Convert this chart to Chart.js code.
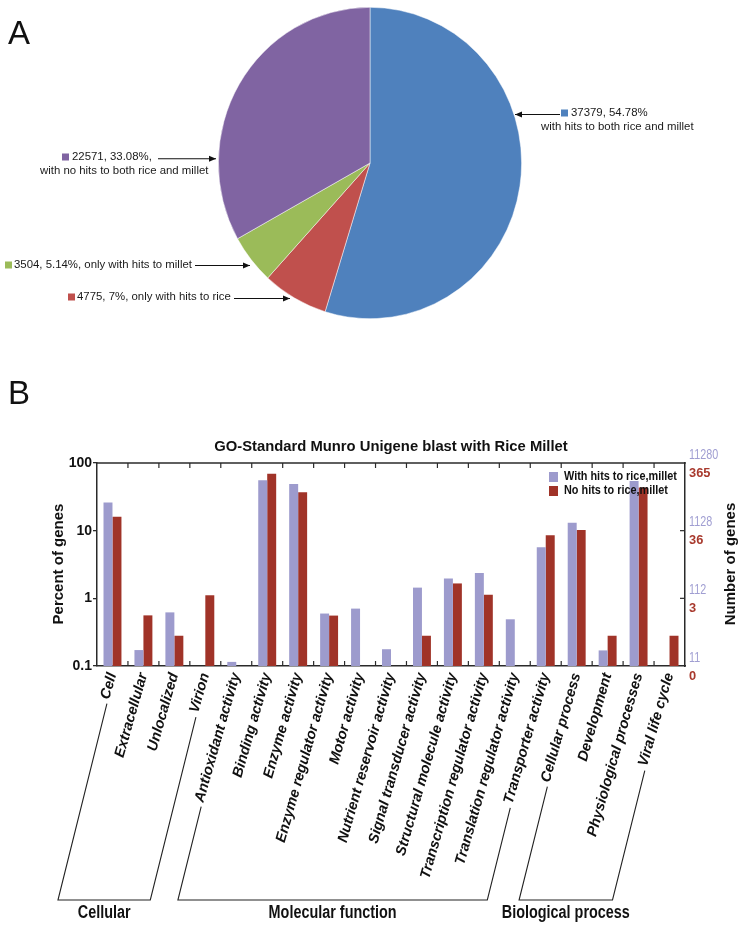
<!DOCTYPE html>
<html><head><meta charset="utf-8">
<script src="https://cdn.jsdelivr.net/npm/chart.js@4.4.1/dist/chart.umd.min.js"></script>
<style>
html,body{margin:0;padding:0;background:#fff;}
#wrap{position:relative;width:747px;height:933px;overflow:hidden;background:#fff;}
canvas{position:absolute;left:0;}
#pie{top:0}
#bar{top:380px}
.panel{position:absolute;font-family:'Liberation Sans',Arial,sans-serif;font-size:33px;color:#111;line-height:33px;}
</style></head><body>
<div id="wrap">
<canvas id="pie" width="747" height="380"></canvas>
<canvas id="bar" width="747" height="553"></canvas>
<div class="panel" style="left:8px;top:16px">A</div>
<div class="panel" style="left:8px;top:376px">B</div>
</div>
<script>
// ---------- DATA: panel A ----------
const pieDescriptions = ['with hits to both rice and millet','only with hits to rice','only with hits to millet','with no hits to both rice and millet'];
const pieCounts = [37379, 4775, 3504, 22571];
const piePercents = ['54.78%','7%','5.14%','33.08%'];

// ---------- DATA: panel B ----------
const categories = ['Cell','Extracellular','Unlocalized','Virion','Antioxidant activity','Binding activity','Enzyme activity','Enzyme regulator activity','Motor activity','Nutrient reservoir activity','Signal transducer activity','Structural molecule activity','Transcription regulator activity','Translation regulator activity','Transporter activity','Cellular process','Development','Physiological processes','Viral life cycle'];
const seriesNames = ['With hits to rice,millet','No hits to rice,millet'];
const withHits = [26.1, 0.172, 0.62, null, 0.115, 55.7, 49, 0.596, 0.705, 0.177, 1.44, 1.97, 2.36, 0.49, 5.69, 13.1, 0.17, 54.3, null];
const noHits   = [16.1, 0.56, 0.28, 1.11, null, 69.6, 37, 0.556, null, null, 0.28, 1.66, 1.13, null, 8.53, 10.2, 0.28, 43.4, 0.28];
const leftTickValues = [0.1, 1, 10, 100];
const leftTickLabels = ['0.1','1','10','100'];
const rightTickTop = ['11','112','1128','11280'];
const rightTickBottom = ['0','3','36','365'];
const chartTitle = 'GO-Standard Munro Unigene blast with Rice Millet';
const leftAxisTitle = 'Percent of genes';
const rightAxisTitle = 'Number of genes';
const groupNames = ['Cellular','Molecular function','Biological process'];
const groupFirst = [0, 4, 15];
const groupLast = [3, 14, 18];

// ---------- STYLE ----------
const FONT = "'Liberation Sans', Arial, Helvetica, sans-serif";
Chart.defaults.font.family = FONT;
const pieColors = ['#4F81BD','#C0504D','#9BBB59','#8064A2'];
const PURPLE = '#9D9BCD', RED = '#A03328';
const AXIS = '#2a2a2a';

function textAt(ctx, text, x, y, font, color, align, sx) {
  ctx.save();
  ctx.font = font; ctx.fillStyle = color; ctx.textBaseline = 'middle';
  ctx.textAlign = align || 'left';
  ctx.translate(x, y); ctx.scale(sx || 1, 1);
  ctx.fillText(text, 0, 0);
  ctx.restore();
}
function arrow(ctx, x1, y1, x2, y2) {
  ctx.beginPath(); ctx.moveTo(x1, y1); ctx.lineTo(x2, y2); ctx.stroke();
  const a = Math.atan2(y2 - y1, x2 - x1), L = 7, W = 3;
  ctx.beginPath(); ctx.moveTo(x2, y2);
  ctx.lineTo(x2 - L * Math.cos(a) + W * Math.sin(a), y2 - L * Math.sin(a) - W * Math.cos(a));
  ctx.lineTo(x2 - L * Math.cos(a) - W * Math.sin(a), y2 - L * Math.sin(a) + W * Math.cos(a));
  ctx.closePath(); ctx.fill();
}

// ---------- PANEL A ----------
const PIE_STRETCH = 1.027;
const pieLabelPos = [
  {sq:[561,113], l1:[571,113], l2:[541,126.5], ar:[560,114.5,515,114.5]},
  {sq:[68,297], l1:[77,297], ar:[234,298.5,290,298.5]},
  {sq:[5,265], l1:[14,265], ar:[195,265.5,250,265.5]},
  {sq:[62,157], l1:[72,157], l2:[40,170.5], ar:[158,158.7,216,158.7]}
];
const pieAnnot = {
  id: 'pieAnnot',
  beforeDatasetsDraw(chart) {
    const ctx = chart.ctx, cy = (chart.chartArea.top + chart.chartArea.bottom) / 2;
    ctx.save(); ctx.translate(0, cy); ctx.scale(1, PIE_STRETCH); ctx.translate(0, -cy);
  },
  afterDatasetsDraw(chart) { chart.ctx.restore(); },
  afterDraw(chart) {
    const ctx = chart.ctx;
    const f = '11.4px ' + FONT;
    ctx.save();
    ctx.strokeStyle = '#111'; ctx.fillStyle = '#111'; ctx.lineWidth = 1.1;
    pieCounts.forEach((c, i) => {
      const p = pieLabelPos[i];
      ctx.fillStyle = pieColors[i];
      ctx.fillRect(p.sq[0], p.sq[1] - 3.5, 7, 7);
      if (p.l2) {
        textAt(ctx, c + ', ' + piePercents[i] + (i === 3 ? ',' : ''), p.l1[0], p.l1[1], f, '#1a1a1a');
        textAt(ctx, pieDescriptions[i], p.l2[0], p.l2[1], f, '#1a1a1a');
      } else {
        textAt(ctx, c + ', ' + piePercents[i] + ', ' + pieDescriptions[i], p.l1[0], p.l1[1], f, '#1a1a1a');
      }
      ctx.fillStyle = '#111';
      arrow(ctx, p.ar[0], p.ar[1], p.ar[2], p.ar[3]);
    });
    ctx.restore();
  }
};
new Chart(document.getElementById('pie'), {
  type: 'pie',
  data: { labels: pieDescriptions, datasets: [{ data: pieCounts, backgroundColor: pieColors, borderColor: 'rgba(255,255,255,0.6)', borderWidth: 0.8 }] },
  options: {
    responsive: false, animation: false, devicePixelRatio: 1,
    layout: { padding: { left: 218, right: 225, top: 11, bottom: 65 } },
    plugins: { legend: { display: false }, tooltip: { enabled: false } }
  },
  plugins: [pieAnnot]
});

// ---------- PANEL B ----------
const ROT = 74, XFS = 14.5, XPAD = 5, BR_ROT = 76;
const BRACKET_Y = 520, GROUP_Y = 533, GAP = 4;
const decor = {
  id: 'decor',
  afterDraw(chart) {
    const { ctx, chartArea: ca, scales } = chart;
    const xs = scales.x, ys = scales.y;
    const line = (a, b, c, d) => { ctx.beginPath(); ctx.moveTo(a, b); ctx.lineTo(c, d); ctx.stroke(); };
    ctx.save();
    ctx.strokeStyle = AXIS; ctx.lineWidth = 1.5;
    line(ca.left - 0.75, ca.top, ca.right + 0.75, ca.top);
    ctx.lineWidth = 1.2;
    for (let i = 1; i < categories.length; i++) {
      const px = (xs.getPixelForTick(i - 1) + xs.getPixelForTick(i)) / 2;
      line(px, ca.top, px, ca.top + 5);
      line(px, ca.bottom, px, ca.bottom - 5);
    }
    leftTickValues.forEach((v, i) => {
      const py = ys.getPixelForValue(v);
      if (i > 0 && i < leftTickValues.length - 1) line(ca.right, py, ca.right - 5, py);
      textAt(ctx, rightTickTop[i], ca.right + 4, py - 8.5, '15px ' + FONT, '#A09ED2', 'left', 0.72);
      textAt(ctx, rightTickBottom[i], ca.right + 4, py + 10, 'bold 13.5px ' + FONT, '#A8392D', 'left', 0.95);
    });
    // title
    textAt(ctx, chartTitle, (ca.left + ca.right) / 2, 67, 'bold 14.8px ' + FONT, '#111', 'center');
    // axis titles
    [[59, leftAxisTitle], [731, rightAxisTitle]].forEach(([x, t]) => {
      ctx.save(); ctx.translate(x, 184); ctx.rotate(-Math.PI / 2);
      textAt(ctx, t, 0, 0, 'bold 15px ' + FONT, '#111', 'center');
      ctx.restore();
    });
    // legend
    [[PURPLE, seriesNames[0], 97], [RED, seriesNames[1], 111]].forEach(([col, t, y]) => {
      ctx.fillStyle = col; ctx.fillRect(549, y - 5, 9, 10);
      textAt(ctx, t, 564, y, 'bold 12.5px ' + FONT, '#111', 'left', 0.87);
    });
    // group brackets
    const th = ROT * Math.PI / 180, c = Math.cos(th), s = Math.sin(th), lh = XFS * 1.2;
    const bth = BR_ROT * Math.PI / 180, bc = Math.cos(bth), bs = Math.sin(bth);
    ctx.font = 'italic bold ' + XFS + 'px ' + FONT;
    const foot = i => {
      const ex = xs.getPixelForTick(i), ey = xs.top + XPAD + (lh / 2) * c;
      const w = ctx.measureText(categories[i]).width;
      const gx = ex - (w + GAP) * c + 3 * s, gy = ey + (w + GAP) * s + 3 * c;
      const t = (BRACKET_Y - gy) / bs;
      return [gx, gy, gx - t * bc, BRACKET_Y];
    };
    ctx.strokeStyle = '#222'; ctx.lineWidth = 1.1;
    groupNames.forEach((g, k) => {
      const a = foot(groupFirst[k]), b = foot(groupLast[k]);
      ctx.beginPath(); ctx.moveTo(a[0], a[1]); ctx.lineTo(a[2], a[3]); ctx.lineTo(b[2], b[3]); ctx.lineTo(b[0], b[1]); ctx.stroke();
      textAt(ctx, g, (a[2] + b[2]) / 2, GROUP_Y, 'bold 18px ' + FONT, '#111', 'center', 0.8);
    });
    ctx.restore();
  }
};
const fixTicks = s => { s.ticks = leftTickValues.map(v => ({ value: v })); };
new Chart(document.getElementById('bar'), {
  type: 'bar',
  data: {
    labels: categories,
    datasets: [
      { label: seriesNames[0], data: withHits, backgroundColor: PURPLE, yAxisID: 'y' },
      { label: seriesNames[1], data: noHits, backgroundColor: RED, yAxisID: 'y' }
    ]
  },
  options: {
    responsive: false, animation: false, devicePixelRatio: 1,
    layout: { padding: { top: 83, left: 0, right: 0, bottom: 0 } },
    datasets: { bar: { categoryPercentage: 0.58, barPercentage: 1.0 } },
    plugins: { legend: { display: false }, tooltip: { enabled: false }, title: { display: false } },
    scales: {
      x: {
        type: 'category', offset: true,
        grid: { display: false, drawTicks: false },
        border: { display: true, color: AXIS, width: 1.5 },
        ticks: { autoSkip: false, minRotation: ROT, maxRotation: ROT, padding: XPAD, color: '#111',
                 font: { size: XFS, weight: 'bold', style: 'italic' } },
        afterFit(s) { s.height = 267; }
      },
      y: {
        type: 'logarithmic', position: 'left', min: 0.1, max: 100,
        afterBuildTicks: fixTicks,
        ticks: { padding: 1, color: '#111', font: { size: 14, weight: 'bold' },
                 callback: v => { const i = leftTickValues.indexOf(v); return i >= 0 ? leftTickLabels[i] : ''; } },
        grid: { drawOnChartArea: false, drawTicks: true, tickLength: 4, color: AXIS, lineWidth: 1.3 },
        border: { display: true, color: AXIS, width: 1.5 },
        afterFit(s) { s.width = 97; }
      },
      y1: {
        type: 'logarithmic', position: 'right', min: 0.1, max: 100,
        afterBuildTicks: fixTicks,
        ticks: { display: false },
        grid: { display: false, drawOnChartArea: false, drawTicks: false },
        border: { display: true, color: AXIS, width: 1.5 },
        afterFit(s) { s.width = 62; }
      }
    }
  },
  plugins: [decor]
});
</script>
</body></html>
